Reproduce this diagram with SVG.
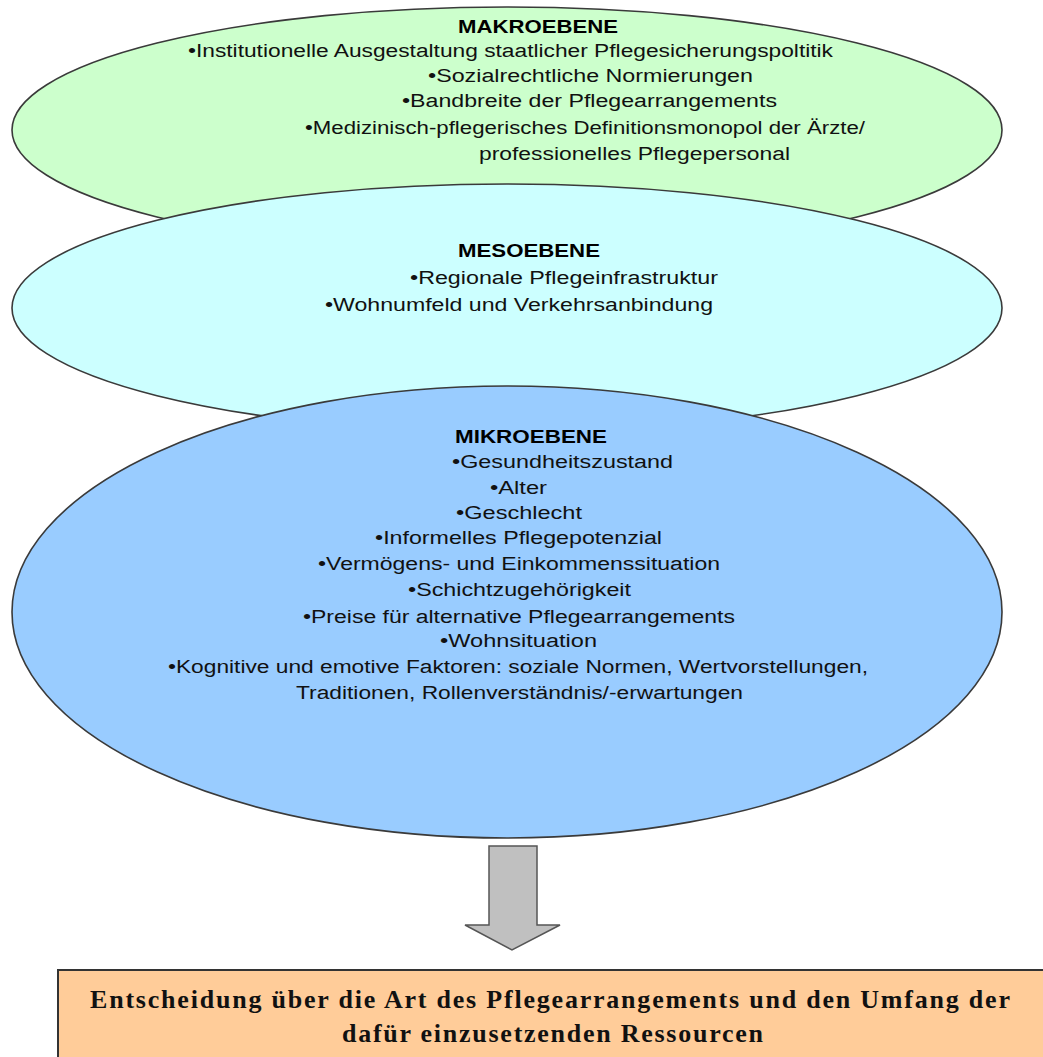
<svg xmlns="http://www.w3.org/2000/svg" width="1043" height="1057" viewBox="0 0 1043 1057">
  <style>
    .lvl { stroke: #3a3a3a; stroke-width: 1.6; }
    .head { font-family: "Liberation Sans", Arial, sans-serif; font-size: 18px; font-weight: bold; fill: #000; }
    .item { font-family: "Liberation Sans", Arial, sans-serif; font-size: 18px; fill: #111; }
    .out { font-family: "Liberation Serif", "Times New Roman", serif; font-size: 26px; font-weight: bold; fill: #111; }
  </style>

  <rect width="1043" height="1057" fill="#ffffff"/>

  <!-- Macro level -->
  <g id="makroebene">
    <ellipse class="lvl" cx="507" cy="130" rx="495" ry="123" fill="#ccffcc"/>
    <text class="head" x="458" y="33" textLength="160" lengthAdjust="spacingAndGlyphs">MAKROEBENE</text>
    <text class="item" x="188" y="57" textLength="645" lengthAdjust="spacingAndGlyphs">•Institutionelle Ausgestaltung staatlicher Pflegesicherungspoltitik</text>
    <text class="item" x="428" y="82" textLength="325" lengthAdjust="spacingAndGlyphs">•Sozialrechtliche Normierungen</text>
    <text class="item" x="402" y="107" textLength="375" lengthAdjust="spacingAndGlyphs">•Bandbreite der Pflegearrangements</text>
    <text class="item" x="305" y="134" textLength="560" lengthAdjust="spacingAndGlyphs">•Medizinisch-pflegerisches Definitionsmonopol der Ärzte/</text>
    <text class="item" x="479" y="160" textLength="311" lengthAdjust="spacingAndGlyphs">professionelles Pflegepersonal</text>
  </g>

  <!-- Meso level -->
  <g id="mesoebene">
    <ellipse class="lvl" cx="507" cy="308" rx="495" ry="124" fill="#ccffff"/>
    <text class="head" x="458" y="257" textLength="142" lengthAdjust="spacingAndGlyphs">MESOEBENE</text>
    <text class="item" x="410" y="284" textLength="308" lengthAdjust="spacingAndGlyphs">•Regionale Pflegeinfrastruktur</text>
    <text class="item" x="325" y="311" textLength="388" lengthAdjust="spacingAndGlyphs">•Wohnumfeld und Verkehrsanbindung</text>
  </g>

  <!-- Micro level -->
  <g id="mikroebene">
    <ellipse class="lvl" cx="507" cy="612" rx="495" ry="226" fill="#99ccff"/>
    <text class="head" x="455" y="443" textLength="152" lengthAdjust="spacingAndGlyphs">MIKROEBENE</text>
    <text class="item" x="452" y="468" textLength="221" lengthAdjust="spacingAndGlyphs">•Gesundheitszustand</text>
    <text class="item" x="490" y="494" textLength="57" lengthAdjust="spacingAndGlyphs">•Alter</text>
    <text class="item" x="456" y="519" textLength="126" lengthAdjust="spacingAndGlyphs">•Geschlecht</text>
    <text class="item" x="375" y="544" textLength="287" lengthAdjust="spacingAndGlyphs">•Informelles Pflegepotenzial</text>
    <text class="item" x="318" y="570" textLength="402" lengthAdjust="spacingAndGlyphs">•Vermögens- und Einkommenssituation</text>
    <text class="item" x="408" y="596" textLength="223" lengthAdjust="spacingAndGlyphs">•Schichtzugehörigkeit</text>
    <text class="item" x="303" y="623" textLength="432" lengthAdjust="spacingAndGlyphs">•Preise für alternative Pflegearrangements</text>
    <text class="item" x="440" y="647" textLength="157" lengthAdjust="spacingAndGlyphs">•Wohnsituation</text>
    <text class="item" x="168" y="673" textLength="700" lengthAdjust="spacingAndGlyphs">•Kognitive und emotive Faktoren: soziale Normen, Wertvorstellungen,</text>
    <text class="item" x="296" y="699" textLength="447" lengthAdjust="spacingAndGlyphs">Traditionen, Rollenverständnis/-erwartungen</text>
  </g>

  <!-- Outcome box -->
  <g id="entscheidung">
    <rect x="58" y="970" width="1000" height="100" fill="#ffcc99" stroke="#333333" stroke-width="2"/>
    <text class="out" x="90" y="1008" textLength="920">Entscheidung über die Art des Pflegearrangements und den Umfang der</text>
    <text class="out" x="342" y="1042" textLength="421">dafür einzusetzenden Ressourcen</text>
  </g>

  <!-- Connectors -->
  <g id="connectors">
    <polygon points="489,846 537,846 537,925 560,925 512,950 465,925 489,925" fill="#c0c0c0" stroke="#555555" stroke-width="1.5" stroke-linejoin="miter"/>
  </g>
</svg>
